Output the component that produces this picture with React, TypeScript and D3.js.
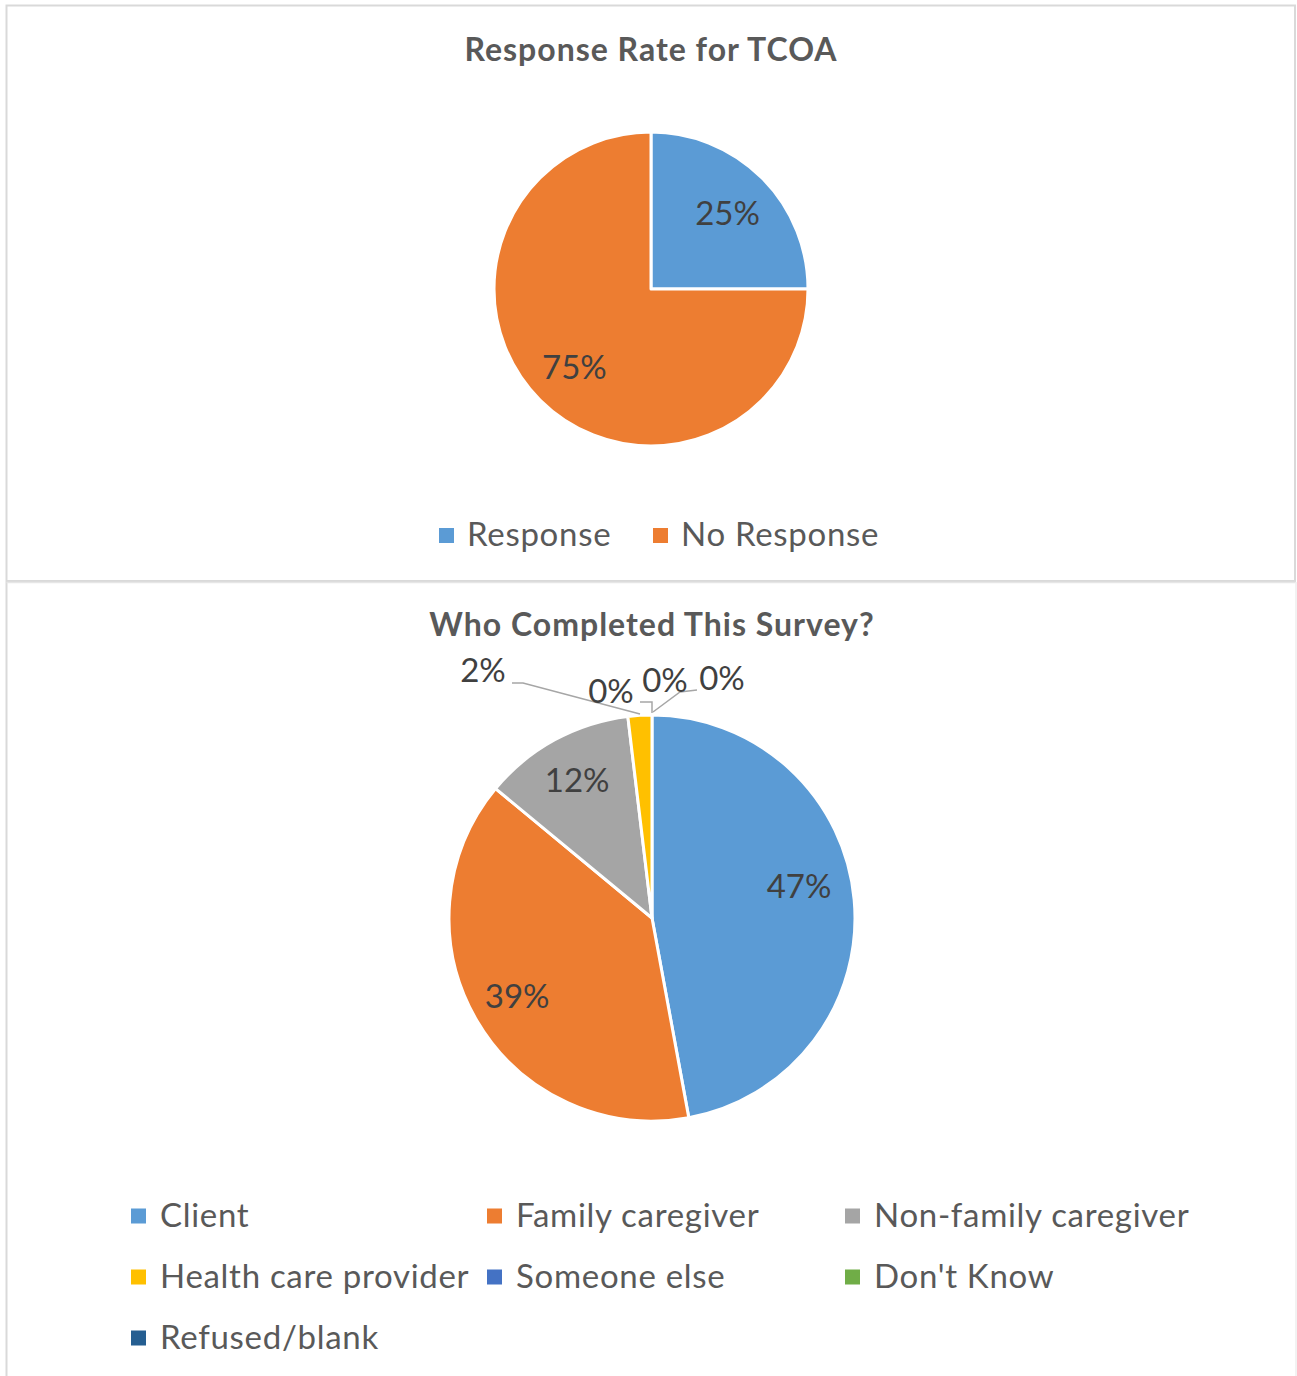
import React from "react";
import * as d3 from "d3";

const responseCategories = ["Response", "No Response"];
const responseValues = [25, 75];
const responseColors = ["#5B9BD5", "#ED7D31"];

const whoCategories = [
  "Client",
  "Family caregiver",
  "Non-family caregiver",
  "Health care provider",
  "Someone else",
  "Don't Know",
  "Refused/blank",
];
const whoValues = [47.1, 38.9, 12.1, 1.9, 0, 0, 0];
const whoLabels = ["47%", "39%", "12%", "2%", "0%", "0%", "0%"];
const whoColors = ["#5B9BD5", "#ED7D31", "#A5A5A5", "#FFC000", "#4472C4", "#70AD47", "#255E91"];

const FONT = "Lato, 'Open Sans', sans-serif";
const TEXT = "#595959";
const LABEL = "#404040";
const DY = -2; // baseline correction for the substitute font

function Pie({ values, colors, cx, cy, r }: { values: number[]; colors: string[]; cx: number; cy: number; r: number }) {
  const arcs = d3.pie<number>().sort(null).value((d) => d)(values);
  const arc = d3.arc<d3.PieArcDatum<number>>().innerRadius(0).outerRadius(r);
  return (
    <g transform={`translate(${cx},${cy})`}>
      {arcs.map((a, i) =>
        a.endAngle - a.startAngle > 0 ? (
          <path key={i} d={arc(a) || ""} fill={colors[i]} stroke="#fff" strokeWidth={3} strokeLinejoin="round" />
        ) : null
      )}
    </g>
  );
}

export default function App() {
  // Chart 1
  const c1 = { cx: 651, cy: 289, r: 157 };
  const arcs1 = d3.pie<number>().sort(null).value((d) => d)(responseValues);
  const lab1 = d3.arc<d3.PieArcDatum<number>>().innerRadius(c1.r * 0.69).outerRadius(c1.r * 0.69);

  // Chart 2
  const c2 = { cx: 652, cy: 918, r: 203 };
  const arcs2 = d3.pie<number>().sort(null).value((d) => d)(whoValues);
  const lab2 = d3.arc<d3.PieArcDatum<number>>().innerRadius(c2.r * 0.77).outerRadius(c2.r * 0.77);
  // manual label offsets (relative to pie center) where Excel placed them differently
  const outside: Record<number, [number, number]> = {
    0: [147, -31],
    3: [-169, -247],
    4: [-41, -226],
    5: [13, -237],
    6: [70, -239],
  };

  const legend2Cols = [131, 487, 845];
  const legend2Rows = [1216, 1277, 1338];

  return (
    <svg
      width={1297}
      height={1376}
      style={{ position: "absolute", left: 0, top: 0, background: "#fff" }}
      fontFamily={FONT}
    >
      <rect x={0} y={0} width={1297} height={1376} fill="#fff" />
      {/* frames */}
      <rect x={6.5} y={5.5} width={1288.5} height={575.5} fill="none" stroke="#d9d9d9" strokeWidth={2} />
      <line x1={6.5} y1={582} x2={6.5} y2={1376} stroke="#d9d9d9" strokeWidth={2} />
      <line x1={6.5} y1={582.5} x2={1296} y2={582.5} stroke="#e6e6e6" strokeWidth={1.5} />
      <line x1={1296} y1={582} x2={1296} y2={1376} stroke="#eeeeee" strokeWidth={1.5} />

      {/* Chart 1 */}
      <text x={651} y={50 + DY} textAnchor="middle" dominantBaseline="central" fontSize={32} letterSpacing={1} fontWeight={700} fill={TEXT}>
        Response Rate for TCOA
      </text>
      <Pie values={responseValues} colors={responseColors} {...c1} />
      {arcs1.map((a, i) => {
        const [x, y] = lab1.centroid(a);
        return (
          <text key={i} x={c1.cx + x} y={c1.cy + y} textAnchor="middle" dominantBaseline="central" fontSize={33} fill={LABEL}>
            {responseValues[i]}%
          </text>
        );
      })}
      {responseCategories.map((c, i) => {
        const x0 = [439, 653][i];
        return (
          <g key={c}>
            <rect x={x0} y={528} width={15} height={15} fill={responseColors[i]} />
            <text x={x0 + 28} y={535 + DY} dominantBaseline="central" fontSize={33} letterSpacing={0.7} fill={TEXT}>
              {c}
            </text>
          </g>
        );
      })}

      {/* Chart 2 */}
      <text x={652} y={625 + DY} textAnchor="middle" dominantBaseline="central" fontSize={32} letterSpacing={1} fontWeight={700} fill={TEXT}>
        Who Completed This Survey?
      </text>
      <Pie values={whoValues} colors={whoColors} {...c2} />
      {/* leader lines */}
      <g fill="none" stroke="#a6a6a6" strokeWidth={1.5}>
        <polyline points={`${c2.cx - 140},${c2.cy - 235} ${c2.cx - 129},${c2.cy - 235} ${c2.cx - 12},${c2.cy - 204}`} />
        <polyline points={`${c2.cx - 12},${c2.cy - 216} ${c2.cx},${c2.cy - 216} ${c2.cx},${c2.cy - 205}`} />
        <polyline points={`${c2.cx + 1},${c2.cy - 206} ${c2.cx + 28},${c2.cy - 226} ${c2.cx + 45},${c2.cy - 228}`} />
      </g>
      {arcs2.map((a, i) => {
        let x: number, y: number;
        if (outside[i]) {
          [x, y] = outside[i];
        } else {
          [x, y] = lab2.centroid(a);
        }
        return (
          <text key={i} x={c2.cx + x} y={c2.cy + y + DY} textAnchor="middle" dominantBaseline="central" fontSize={33} fill={LABEL}>
            {whoLabels[i]}
          </text>
        );
      })}
      {whoCategories.map((c, i) => {
        const x0 = legend2Cols[i % 3];
        const y0 = legend2Rows[Math.floor(i / 3)];
        return (
          <g key={c}>
            <rect x={x0} y={y0 - 7.5} width={15} height={15} fill={whoColors[i]} />
            <text x={x0 + 29} y={y0 + DY} dominantBaseline="central" fontSize={33} letterSpacing={0.7} fill={TEXT}>
              {c}
            </text>
          </g>
        );
      })}
    </svg>
  );
}
